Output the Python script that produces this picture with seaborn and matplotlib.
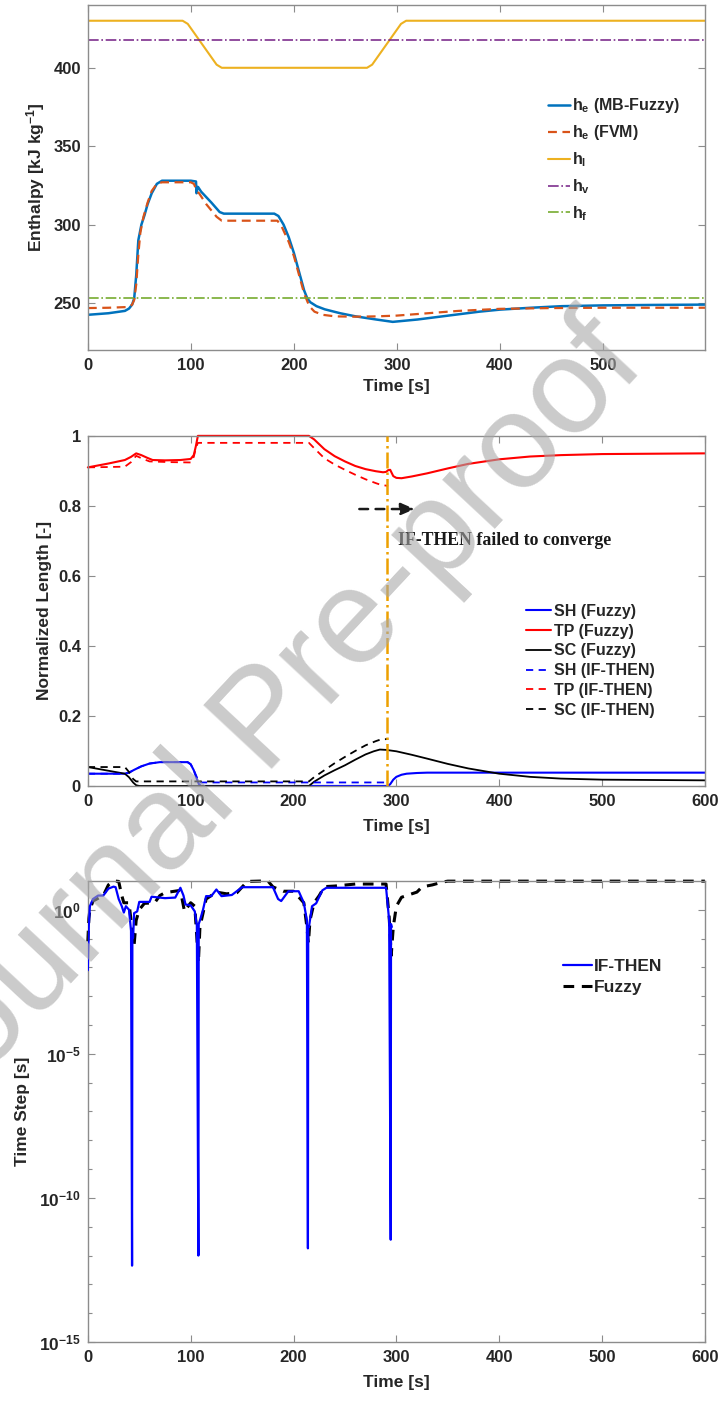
import numpy as np
import pandas as pd
import matplotlib
matplotlib.use("Agg")
import matplotlib.pyplot as plt
import seaborn as sns
from matplotlib.ticker import FixedLocator, NullFormatter

# ---------------- Panel 1: enthalpy ----------------
t_hi = [0, 92, 97, 125, 130, 271, 276, 304, 309, 600]
h_i = [430, 430, 428, 402, 400, 400, 402, 428, 430, 430]
t_hv = [0, 600]
h_v = [418, 418]
t_hf = [0, 600]
h_f = [253, 253]

t_he_mb = [0, 20, 36, 40, 43, 45, 47, 49, 52, 55, 58, 62, 67, 72, 80, 100, 105,
           105.5, 106.5, 107, 110, 120, 128, 132, 150, 181, 185, 190, 195, 200,
           205, 210, 213, 216, 222, 230, 245, 260, 280, 296, 320, 350, 380, 400,
           430, 460, 500, 550, 600]
he_mb = [242.5, 243.5, 245, 246.5, 249, 253, 268, 290, 300, 306, 313, 320, 326,
         328, 328, 328, 327.5, 320, 324, 324, 321, 314, 308, 307, 307, 307, 305.5,
         300, 292, 282, 270, 258, 253, 250.5, 248, 246, 243.5, 241.5, 239.5, 238,
         239.5, 242, 244.5, 245.8, 247, 248, 248.5, 248.8, 249]

t_he_fvm = [0, 20, 40, 43, 45, 47, 49, 51, 54, 58, 62, 67, 72, 100, 103, 106, 108,
            115, 125, 130, 150, 184, 188, 195, 200, 205, 210, 215, 220, 228, 240,
            260, 280, 300, 330, 360, 400, 450, 500, 600]
he_fvm = [246.8, 247, 247.5, 249, 252, 262, 281, 295, 305, 314, 321.5, 326, 327,
          327, 326, 321, 320, 313, 305, 302.5, 302.5, 302.5, 299, 289, 280, 268,
          256, 248, 244.5, 242.5, 241.5, 241.3, 241.5, 242, 243.5, 245, 246.3,
          246.8, 247, 247]

# ---------------- Panel 2: normalized lengths ----------------
t_tp_f = [0, 20, 36, 42, 47, 52, 58, 63, 75, 90, 100, 103, 105, 107, 110, 150, 215,
          220, 230, 240, 250, 260, 270, 280, 287, 290, 292, 294, 297, 300, 305, 315,
          330, 350, 370, 400, 430, 460, 500, 550, 600]
tp_f = [0.910, 0.921, 0.931, 0.940, 0.950, 0.945, 0.937, 0.931, 0.930, 0.931,
        0.934, 0.945, 0.970, 1.0, 1.0, 1.0, 1.0, 0.990, 0.962, 0.942, 0.927, 0.914,
        0.905, 0.899, 0.896, 0.897, 0.902, 0.903, 0.885, 0.880, 0.879, 0.884,
        0.893, 0.907, 0.920, 0.933, 0.941, 0.945, 0.948, 0.949, 0.950]

t_tp_it = [0, 20, 36, 42, 47, 53, 60, 80, 100, 103, 105, 107, 110, 150, 215, 220,
           230, 240, 250, 260, 270, 280, 285, 292]
tp_it = [0.910, 0.911, 0.912, 0.925, 0.943, 0.935, 0.927, 0.925, 0.924, 0.940,
         0.965, 0.980, 0.980, 0.980, 0.980, 0.965, 0.936, 0.918, 0.903, 0.889,
         0.876, 0.865, 0.860, 0.857]

t_sh_f = [0, 36, 40, 45, 52, 60, 70, 97, 100, 103, 106, 108, 110, 292, 294, 297,
          300, 305, 310, 320, 330, 600]
sh_f = [0.035, 0.035, 0.038, 0.046, 0.056, 0.064, 0.068, 0.068, 0.062, 0.045,
        0.020, 0.005, 0.0, 0.0, 0.005, 0.018, 0.026, 0.032, 0.035, 0.037, 0.038,
        0.038]

t_sh_it = [0, 36, 40, 45, 52, 60, 70, 97, 100, 103, 106, 108, 110, 292]
sh_it = [0.035, 0.035, 0.038, 0.046, 0.056, 0.064, 0.068, 0.068, 0.062, 0.045,
         0.025, 0.011, 0.010, 0.010]

t_sc_f = [0, 36, 40, 44, 47, 50, 215, 220, 230, 240, 250, 260, 270, 278, 284, 290,
          300, 315, 330, 350, 370, 400, 430, 460, 500, 550, 600]
sc_f = [0.054, 0.035, 0.025, 0.010, 0.002, 0.0, 0.0, 0.012, 0.030, 0.045, 0.059,
        0.075, 0.090, 0.099, 0.104, 0.103, 0.099, 0.089, 0.078, 0.063, 0.050,
        0.035, 0.026, 0.021, 0.018, 0.017, 0.016]

t_sc_it = [0, 36, 40, 44, 47, 215, 220, 230, 240, 250, 260, 270, 280, 285, 292]
sc_it = [0.054, 0.054, 0.040, 0.020, 0.013, 0.013, 0.025, 0.045, 0.065, 0.083,
         0.100, 0.116, 0.128, 0.133, 0.134]

fail_time = 291
arrow_start, arrow_end, arrow_y = 264, 318, 0.791
note_x, note_y = 302, 0.70

# ---------------- Panel 3: time step (log10 of step size in s) ----------------
t_step_it = [0, 1, 2, 5, 10, 15, 20, 25, 27, 30, 33, 35, 37, 40, 42, 43, 43.3, 44,
             45, 48, 50, 60, 62, 75, 85, 90, 93, 95, 100, 104, 106, 107.5, 107.8,
             109, 112, 115, 120, 125, 130, 140, 150, 180, 185, 188, 195, 205, 210,
             213, 214, 214.3, 215, 218, 222, 228, 232, 290, 293, 294.5, 294.8, 295.5]
log_step_it = [-2.1, -0.5, 0.12, 0.37, 0.49, 0.49, 0.73, 0.8, 0.78, 0.37, 0.12,
               -0.1, 0.12, 0.0, -0.73, -12.35, -1.0, -0.98, -0.12, -0.06, 0.27,
               0.27, 0.45, 0.4, 0.42, 0.76, 0.49, 0.18, 0.15, -0.06, -0.55, -12.0,
               -0.5, -0.37, 0.0, 0.47, 0.47, 0.7, 0.47, 0.51, 0.78, 0.78, 0.37, 0.3,
               0.64, 0.64, 0.24, -0.37, -11.75, -0.6, -0.6, 0.12, 0.22, 0.67, 0.76,
               0.76, -0.37, -11.45, -0.5, -0.6]

t_step_fz = [0, 1, 2, 5, 15, 20, 25, 30, 33, 35, 40, 42, 45, 47, 50, 55, 65, 70, 75,
             90, 94, 100, 104, 106, 107.5, 109, 112, 115, 125, 135, 145, 155, 175,
             180, 190, 200, 210, 213, 214.5, 216, 220, 225, 230, 240, 260, 290, 293,
             295, 297, 300, 305, 310, 320, 325, 335, 345, 350, 600]
log_step_fz = [-1.1, -0.3, 0.0, 0.3, 0.49, 0.86, 1.0, 0.98, 0.49, 0.24, 0.24, -0.37,
               -1.22, -0.37, 0.0, 0.22, 0.24, 0.49, 0.59, 0.67, -0.06, 0.24, 0.12,
               -0.98, -1.84, -0.6, -0.12, 0.37, 0.61, 0.55, 0.59, 0.98, 1.0, 0.79,
               0.64, 0.64, 0.24, -0.6, -1.16, -0.37, 0.24, 0.49, 0.8, 0.82, 0.89,
               0.89, -0.25, -1.59, -0.6, 0.12, 0.43, 0.49, 0.61, 0.79, 0.86, 0.96,
               0.99, 0.99]

# ---------------- style ----------------
sns.set_theme(style="white")
plt.rcParams["font.family"] = ["Liberation Sans", "DejaVu Sans"]
plt.rcParams["font.weight"] = "bold"
plt.rcParams["axes.labelweight"] = "bold"
plt.rcParams["mathtext.fontset"] = "custom"
plt.rcParams["mathtext.rm"] = "Liberation Sans:bold"
plt.rcParams["mathtext.it"] = "Liberation Sans:bold"
plt.rcParams["mathtext.bf"] = "Liberation Sans:bold"
plt.rcParams["mathtext.default"] = "rm"

SPINE = "#8c8c8c"
TXT = "#262626"
TICK_FS = 12
LABEL_FS = 12.5

fig = plt.figure(figsize=(7.2, 14.06), dpi=100)
ax1 = fig.add_axes([0.122, 0.751, 0.857, 0.2454])
ax2 = fig.add_axes([0.122, 0.441, 0.857, 0.249])
ax3 = fig.add_axes([0.122, 0.0455, 0.857, 0.328])


def line(ax, x, y, **kw):
    sns.lineplot(x=np.asarray(x, float), y=np.asarray(y, float), ax=ax,
                 estimator=None, sort=False, **kw)


def style_axes(ax):
    for s in ax.spines.values():
        s.set_color(SPINE)
        s.set_linewidth(1.0)
        s.set_visible(True)
    ax.tick_params(which="both", direction="in", top=True, right=True,
                   bottom=True, left=True, color=SPINE, labelcolor=TXT,
                   labelsize=TICK_FS, length=5, width=0.8)
    ax.tick_params(axis="x", pad=6)
    ax.tick_params(axis="y", pad=5)
    ax.tick_params(which="minor", length=3)
    for lab in ax.get_xticklabels() + ax.get_yticklabels():
        lab.set_fontweight("bold")
    ax.grid(False)


# ---- panel 1 ----
line(ax1, t_he_mb, he_mb, color="#0072BD", lw=1.8, label=r"h$_{e}$ (MB-Fuzzy)")
line(ax1, t_he_fvm, he_fvm, color="#D95319", lw=1.6, dashes=(4, 2.5),
     label=r"h$_{e}$ (FVM)")
line(ax1, t_hi, h_i, color="#EDB120", lw=1.5, label=r"h$_{l}$")
line(ax1, t_hv, h_v, color="#7E2F8E", lw=1.2, linestyle="-.", label=r"h$_{v}$")
line(ax1, t_hf, h_f, color="#77AC30", lw=1.2, linestyle="-.", label=r"h$_{f}$")
ax1.set_xlim(0, 599)
ax1.set_ylim(220, 440)
ax1.set_xticks([0, 100, 200, 300, 400, 500])
ax1.set_yticks([250, 300, 350, 400])
ax1.set_xlabel("Time [s]", fontsize=LABEL_FS, color=TXT, labelpad=4)
ax1.set_ylabel(r"Enthalpy [kJ kg$^{-1}$]", fontsize=LABEL_FS, color=TXT)
ax1.yaxis.set_label_coords(-0.066, 0.5)
style_axes(ax1)
leg1 = ax1.legend(loc="upper left", bbox_to_anchor=(0.745, 0.735), frameon=False,
                  fontsize=11.5, handlelength=1.4, handletextpad=0.15,
                  labelspacing=0.5, borderpad=0, borderaxespad=0)
for t in leg1.get_texts():
    t.set_color(TXT)

# ---- panel 2 ----
line(ax2, t_sh_f, sh_f, color="#0000FF", lw=1.5, label="SH (Fuzzy)")
line(ax2, t_tp_f, tp_f, color="#FF0000", lw=1.5, label="TP (Fuzzy)", clip_on=False)
line(ax2, t_sc_f, sc_f, color="#000000", lw=1.3, label="SC (Fuzzy)")
line(ax2, t_sh_it, sh_it, color="#0000FF", lw=1.3, dashes=(4, 3), label="SH (IF-THEN)")
line(ax2, t_tp_it, tp_it, color="#FF0000", lw=1.3, dashes=(4, 3), label="TP (IF-THEN)")
line(ax2, t_sc_it, sc_it, color="#000000", lw=1.3, dashes=(4, 3), label="SC (IF-THEN)")
ax2.axvline(fail_time, color="#EDA000", lw=1.8, linestyle="-.", zorder=3)
ax2.annotate("", xy=(arrow_end, arrow_y), xytext=(arrow_start, arrow_y),
             arrowprops=dict(arrowstyle="-|>,head_length=0.7,head_width=0.3",
                             linestyle=(0, (3.5, 3)), lw=1.8, color="k",
                             shrinkA=0, shrinkB=0))
ax2.text(note_x, note_y, "IF-THEN failed to converge", fontsize=12.8,
         fontweight="bold", family=["Liberation Serif", "DejaVu Serif"],
         color="#1a1a1a", ha="left", va="center")
ax2.set_xlim(0, 600)
ax2.set_ylim(0, 1)
ax2.set_xticks([0, 100, 200, 300, 400, 500, 600])
ax2.set_yticks([0, 0.2, 0.4, 0.6, 0.8, 1.0])
ax2.set_yticklabels(["0", "0.2", "0.4", "0.6", "0.8", "1"])
ax2.set_xlabel("Time [s]", fontsize=LABEL_FS, color=TXT, labelpad=7)
ax2.set_ylabel("Normalized Length [-]", fontsize=LABEL_FS, color=TXT)
ax2.yaxis.set_label_coords(-0.058, 0.5)
style_axes(ax2)
leg2 = ax2.legend(loc="upper left", bbox_to_anchor=(0.71, 0.52), frameon=False,
                  fontsize=11.5, handlelength=1.6, handletextpad=0.15,
                  labelspacing=0.3, borderpad=0, borderaxespad=0)
for t in leg2.get_texts():
    t.set_color(TXT)

# ---- panel 3 ----
dt_it = np.power(10.0, np.asarray(log_step_it))
dt_fz = np.power(10.0, np.asarray(log_step_fz))
line(ax3, t_step_it, dt_it, color="#0000FF", lw=1.6, label="IF-THEN", zorder=3)
line(ax3, t_step_fz, dt_fz, color="#000000", lw=2.2, dashes=(3.5, 2.5),
     label="Fuzzy", zorder=2, clip_on=False)
ax3.set_yscale("log")
ax3.set_xlim(0, 600)
ax3.set_ylim(1e-15, 1e1)
ax3.set_xticks([0, 100, 200, 300, 400, 500, 600])
ax3.yaxis.set_major_locator(FixedLocator([1e-15, 1e-10, 1e-5, 1e0]))
ax3.set_yticklabels([r"10$^{-15}$", r"10$^{-10}$", r"10$^{-5}$", r"10$^{0}$"])
ax3.yaxis.set_minor_locator(FixedLocator([10.0 ** k for k in range(-15, 2)]))
ax3.yaxis.set_minor_formatter(NullFormatter())
ax3.set_xlabel("Time [s]", fontsize=LABEL_FS, color=TXT, labelpad=7)
ax3.set_ylabel("Time Step [s]", fontsize=LABEL_FS, color=TXT)
ax3.yaxis.set_label_coords(-0.094, 0.5)
style_axes(ax3)
ax3.tick_params(axis="y", labelsize=12.5)
leg3 = ax3.legend(loc="upper left", bbox_to_anchor=(0.77, 0.83), frameon=False,
                  fontsize=12.5, handlelength=1.7, handletextpad=0.1,
                  labelspacing=0.3, borderpad=0, borderaxespad=0)
for t in leg3.get_texts():
    t.set_color(TXT)

# journal watermark
fig.text(0.371, 0.4865, "Journal Pre-proof", rotation=47, rotation_mode="anchor",
         ha="center", va="center", fontsize=97, fontweight="normal",
         color="#a8a8a8", alpha=0.6, zorder=20)

fig.savefig("out.png", dpi=100)
